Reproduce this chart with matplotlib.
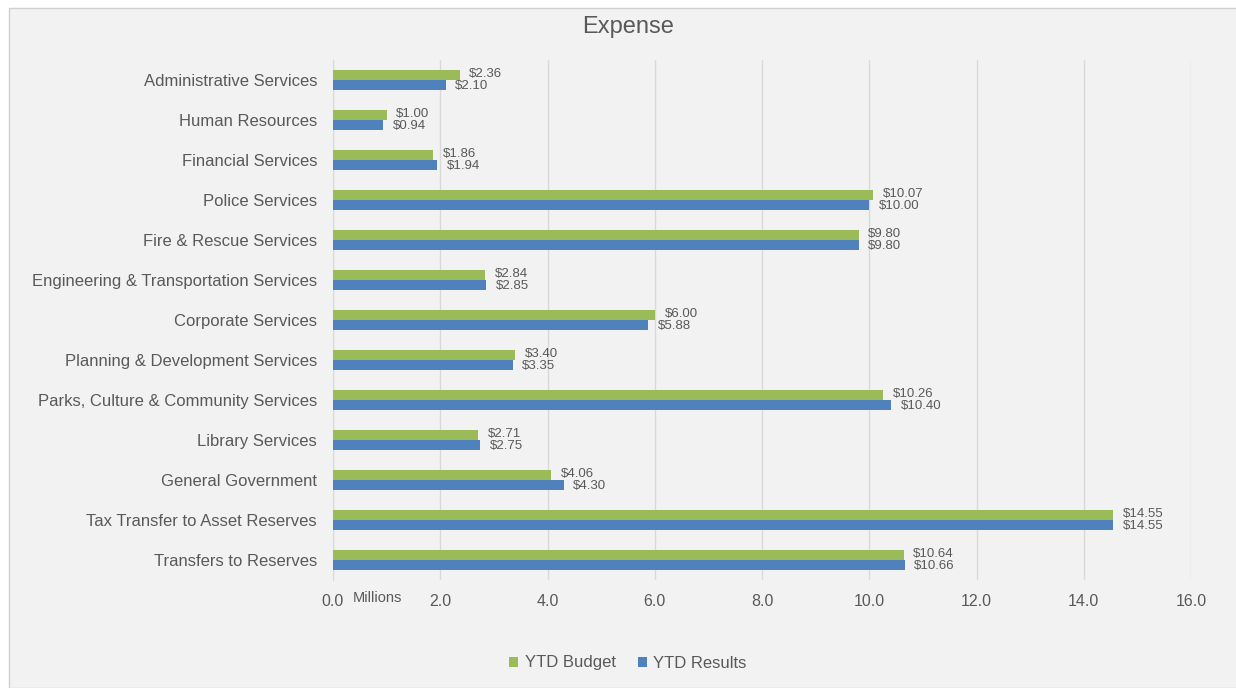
import numpy as np
import matplotlib.pyplot as plt
from matplotlib.patches import Rectangle

plt.rcParams['font.family'] = ['Liberation Sans', 'DejaVu Sans']

categories = [
    "Administrative Services", "Human Resources", "Financial Services",
    "Police Services", "Fire & Rescue Services",
    "Engineering & Transportation Services", "Corporate Services",
    "Planning & Development Services", "Parks, Culture & Community Services",
    "Library Services", "General Government", "Tax Transfer to Asset Reserves",
    "Transfers to Reserves",
]
ytd_budget = [2.36, 1.00, 1.86, 10.07, 9.80, 2.84, 6.00, 3.40, 10.26, 2.71, 4.06, 14.55, 10.64]
ytd_results = [2.10, 0.94, 1.94, 10.00, 9.80, 2.85, 5.88, 3.35, 10.40, 2.75, 4.30, 14.55, 10.66]
x_ticks = [0, 2, 4, 6, 8, 10, 12, 14, 16]

green = '#9BBB59'
blue = '#4F81BD'
text_col = '#595959'

fig = plt.figure(figsize=(12.36, 6.88), dpi=100)
fig.patch.set_facecolor('white')
# chart panel
fig.patches.append(Rectangle((9 / 1236, 0), 1, 1 - 8 / 688, transform=fig.transFigure,
                             facecolor='#f2f2f2', edgecolor='#d0d0d0', linewidth=1, zorder=-5))

ax = fig.add_axes([333 / 1236, 1 - 580 / 688, (1191 - 333) / 1236, (580 - 60) / 688])
ax.set_zorder(2)
ax.set_facecolor('none')

y = np.arange(len(categories))
h = 0.25
ax.barh(y - h / 2, ytd_budget, height=h, color=green, label='YTD Budget', zorder=3)
ax.barh(y + h / 2, ytd_results, height=h, color=blue, label='YTD Results', zorder=3)

for i in range(len(categories)):
    ax.annotate(f"${ytd_budget[i]:.2f}", (ytd_budget[i], y[i] - h / 2), xytext=(7, 0.5),
                textcoords='offset points', va='center', ha='left', fontsize=9.5, color=text_col)
    ax.annotate(f"${ytd_results[i]:.2f}", (ytd_results[i], y[i] + h / 2), xytext=(7, -0.5),
                textcoords='offset points', va='center', ha='left', fontsize=9.5, color=text_col)

ax.set_xlim(0, 16)
ax.set_ylim(len(categories) - 0.5, -0.5)
ax.set_xticks(x_ticks)
ax.set_xticklabels([f"{t:.1f}" for t in x_ticks])
ax.set_yticks(y)
ax.set_yticklabels(categories)
ax.tick_params(axis='both', length=0, colors=text_col)
ax.tick_params(axis='x', pad=10, labelsize=11.5)
ax.tick_params(axis='y', pad=11.5, labelsize=12)
ax.grid(axis='x', color='#d9d9d9', linewidth=1, zorder=0)
ax.set_axisbelow(True)
for s in ['top', 'right', 'bottom']:
    ax.spines[s].set_visible(False)
ax.spines['left'].set_color('#d9d9d9')

fig.text(377 / 1236, 1 - 598 / 688, 'Millions', ha='center', va='center', fontsize=10.5, color=text_col)
fig.text(628 / 1236, 1 - 27 / 688, 'Expense', ha='center', va='center', fontsize=17, color=text_col)

leg = fig.legend(loc='center', bbox_to_anchor=(628 / 1236, 1 - 663 / 688), ncol=2, frameon=False,
                 fontsize=12, handlelength=0.55, handleheight=0.55, handletextpad=0.4, columnspacing=1.3)
for t in leg.get_texts():
    t.set_color(text_col)

fig.savefig('out.png', dpi=100, facecolor=fig.get_facecolor())
